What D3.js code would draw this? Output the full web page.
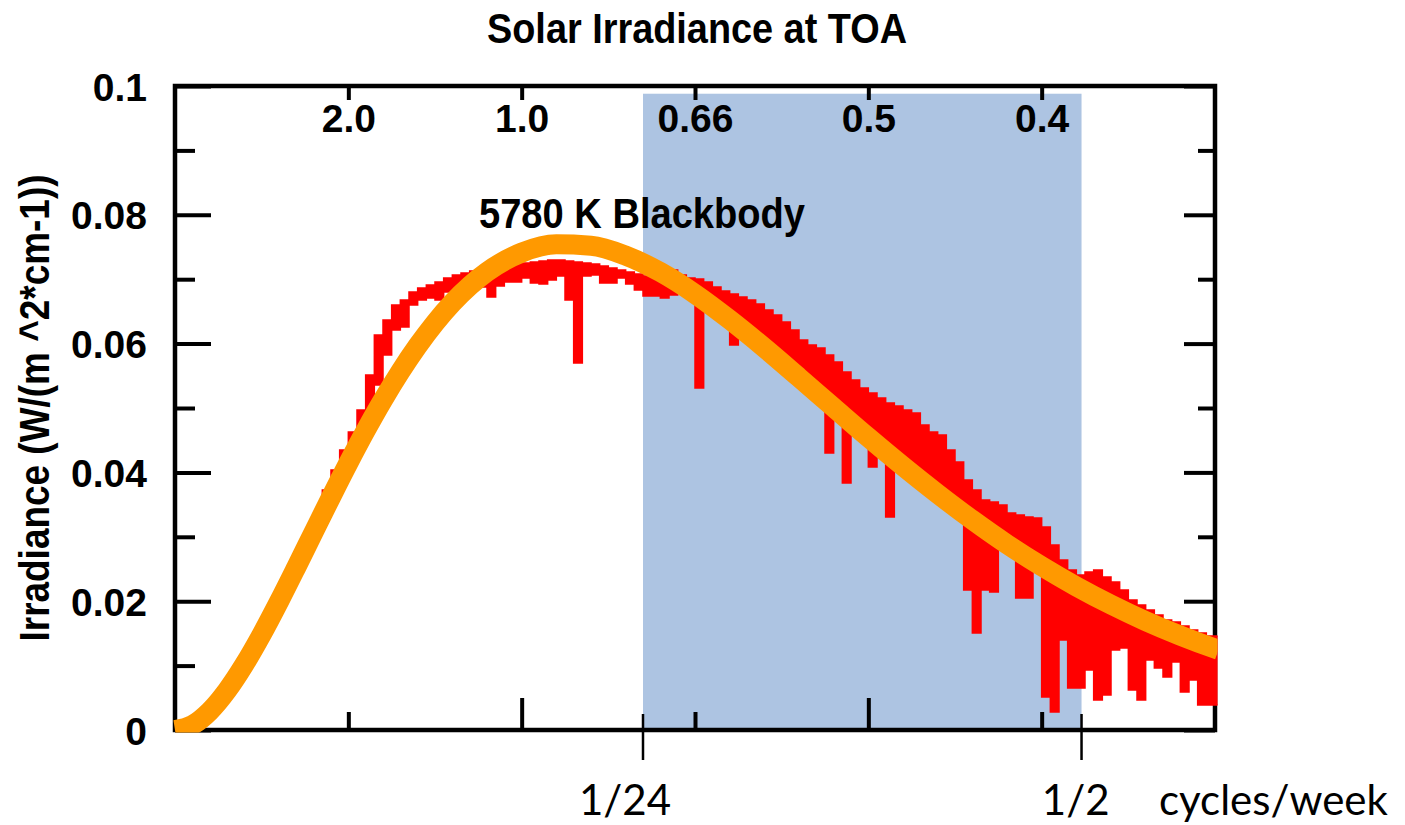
<!DOCTYPE html>
<html>
<head>
<meta charset="utf-8">
<script src="https://cdn.jsdelivr.net/npm/d3@7"></script>
<style>
  html, body { margin: 0; padding: 0; background: #ffffff; }
  svg { display: block; }
</style>
</head>
<body>
<script>
// ---- data -------------------------------------------------------------
// Wavenumber (cm-1) grid of the 5780 K blackbody curve and its irradiance W/(m^2*cm-1)
const blackbodyWavenumber = [0, 500, 1000, 1500, 2000, 2500, 3000, 3500, 4000, 4500, 5000, 5500,
  6000, 6500, 7000, 7500, 8000, 9000, 10000, 11000, 12000, 13000, 14000, 15000, 16000, 17000,
  18000, 19000, 20000, 21000, 22000, 23000, 24000, 25000, 26000, 27000, 28000, 29000, 30000, 30100];
const blackbodyIrradiance = [0, 0.00077, 0.00290, 0.00611, 0.01016, 0.01483, 0.01993, 0.02528,
  0.03073, 0.03615, 0.04144, 0.04650, 0.05126, 0.05565, 0.05964, 0.06321, 0.06632, 0.07114,
  0.07412, 0.07541, 0.07520, 0.07367, 0.07110, 0.06771, 0.06371, 0.05935, 0.05474, 0.05007,
  0.04543, 0.04095, 0.03667, 0.03262, 0.02885, 0.02542, 0.02229, 0.01946, 0.01691, 0.01465,
  0.01263, 0.01244];

// Measured solar spectrum, binned every 250 cm-1 from 3000 cm-1: upper and lower envelope per bin
const solarBinStart = 3000, solarBinWidth = 250;
const solarMax = [
  0.02170, 0.02440, 0.02710, 0.02990, 0.03260, 0.03727, 0.04037, 0.04348, 0.04627, 0.04969, 0.05512, 0.06134,
  0.06366, 0.06599, 0.06677, 0.06801, 0.06863, 0.06910, 0.06957, 0.07019, 0.07065, 0.07096, 0.07127, 0.07143,
  0.07174, 0.07189, 0.07205, 0.07236, 0.07252, 0.07267, 0.07283, 0.07298, 0.07298, 0.07283, 0.07267, 0.07252,
  0.07236, 0.07205, 0.07174, 0.07143, 0.07112, 0.07081, 0.07050, 0.07003, 0.07112, 0.07143, 0.07065, 0.07019,
  0.07003, 0.06957, 0.06879, 0.06817, 0.06770, 0.06724, 0.06677, 0.06615, 0.06522, 0.06444, 0.06335, 0.06211,
  0.06056, 0.05978, 0.05932, 0.05823, 0.05714, 0.05559, 0.05435, 0.05311, 0.05233, 0.05155, 0.05078, 0.05031,
  0.04969, 0.04922, 0.04736, 0.04627, 0.04581, 0.04348, 0.04161, 0.03882, 0.03727, 0.03571, 0.03540, 0.03494,
  0.03370, 0.03339, 0.03307, 0.03292, 0.03152, 0.02873, 0.02640, 0.02484, 0.02407, 0.02453, 0.02484, 0.02376,
  0.02298, 0.02174, 0.02019, 0.01941, 0.01863, 0.01786, 0.01708, 0.01677, 0.01615, 0.01553, 0.01506, 0.01460
];
const solarMin = [
  0.02070, 0.02340, 0.02610, 0.02890, 0.03160, 0.03339, 0.03618, 0.03898, 0.04146, 0.04503, 0.04891, 0.05357,
  0.05823, 0.06211, 0.06258, 0.06599, 0.06677, 0.06708, 0.06677, 0.06801, 0.06848, 0.06879, 0.06910, 0.06879,
  0.06724, 0.06894, 0.06957, 0.06957, 0.07019, 0.06941, 0.06925, 0.06988, 0.07050, 0.06677, 0.05699, 0.07050,
  0.07065, 0.06941, 0.06941, 0.07019, 0.06925, 0.06832, 0.06739, 0.06739, 0.06708, 0.06755, 0.06801, 0.06739,
  0.05311, 0.06615, 0.06522, 0.06398, 0.05978, 0.06180, 0.06056, 0.05947, 0.05823, 0.05714, 0.05590, 0.05497,
  0.05373, 0.05248, 0.05124, 0.04301, 0.04938, 0.03835, 0.04720, 0.04596, 0.04084, 0.04348, 0.03307, 0.04130,
  0.04037, 0.03929, 0.03820, 0.03696, 0.03571, 0.03478, 0.03385, 0.02174, 0.01506, 0.02174, 0.02143, 0.02873,
  0.02764, 0.02050, 0.02050, 0.02516, 0.00512, 0.00280, 0.01398, 0.00652, 0.00652, 0.00932, 0.00466, 0.00543,
  0.01242, 0.01273, 0.00621, 0.00466, 0.01087, 0.00963, 0.00823, 0.01056, 0.00590, 0.00776, 0.00388, 0.00388
];

// Axis ticks
const yMajorTicks = [0, 0.02, 0.04, 0.06, 0.08, 0.1];
const yMajorLabels = ["0", "0.02", "0.04", "0.06", "0.08", "0.1"];
const yMinorTicks = [0.01, 0.03, 0.05, 0.07, 0.09];
const xMajorTicks = [10000, 20000];
const xMinorTicks = [5000, 15000, 25000];
const wavelengthTicks = [5000, 10000, 15000, 20000, 25000];
const wavelengthLabels = ["2.0", "1.0", "0.66", "0.5", "0.4"];

// Shaded band between the two cycle markers
const cycleMarks = [13500, 26150];
const cycleLabels = ["1/24", "1/2"];
const bandTop = 0.0988;

// ---- layout -----------------------------------------------------------
const W = 1405, H = 825;
const x = d3.scaleLinear().domain([0, 30000]).range([175, 1215]);
const y = d3.scaleLinear().domain([0, 0.1]).range([730, 86]);
const boldFont = "'Liberation Sans', Arial, sans-serif";
const plainFont = "Lato, 'Open Sans', sans-serif";

const svg = d3.select("body").append("svg").attr("width", W).attr("height", H);
svg.append("rect").attr("width", W).attr("height", H).attr("fill", "#ffffff");

// Shaded band
svg.append("rect")
  .attr("x", x(cycleMarks[0]))
  .attr("y", y(bandTop))
  .attr("width", x(cycleMarks[1]) - x(cycleMarks[0]))
  .attr("height", y(0) - y(bandTop))
  .attr("fill", "#adc4e2");

// Axes (ticks point inward)
function styleAxis(g) {
  g.select(".domain").remove();
  g.selectAll(".tick line").attr("stroke", "#000").attr("stroke-width", 4);
  g.selectAll(".tick text")
    .attr("fill", "#000")
    .attr("font-family", boldFont)
    .attr("font-weight", "bold")
    .attr("font-size", 39);
}

svg.append("g").attr("transform", `translate(${x(0)},0)`)
  .call(d3.axisLeft(y).tickValues(yMajorTicks).tickSize(-36).tickPadding(28)
    .tickFormat((d, i) => yMajorLabels[i]))
  .call(styleAxis)
  .call(g => g.selectAll(".tick text").attr("dy", "0.36em"));
svg.append("g").attr("transform", `translate(${x(0)},0)`)
  .call(d3.axisLeft(y).tickValues(yMinorTicks).tickSize(-20).tickFormat(""))
  .call(styleAxis);

svg.append("g").attr("transform", `translate(${x(30000)},0)`)
  .call(d3.axisRight(y).tickValues(yMajorTicks).tickSize(-31).tickFormat(""))
  .call(styleAxis);
svg.append("g").attr("transform", `translate(${x(30000)},0)`)
  .call(d3.axisRight(y).tickValues(yMinorTicks).tickSize(-17).tickFormat(""))
  .call(styleAxis);

svg.append("g").attr("transform", `translate(0,${y(0)})`)
  .call(d3.axisBottom(x).tickValues(xMajorTicks).tickSize(-32).tickFormat(""))
  .call(styleAxis);
svg.append("g").attr("transform", `translate(0,${y(0)})`)
  .call(d3.axisBottom(x).tickValues(xMinorTicks).tickSize(-18).tickFormat(""))
  .call(styleAxis);

// Top axis: wavelength in micrometres, labels inside the frame
svg.append("g").attr("transform", `translate(0,${y(0.1)})`)
  .call(d3.axisBottom(x).tickValues(wavelengthTicks).tickSize(14).tickPadding(4)
    .tickFormat((d, i) => wavelengthLabels[i]))
  .call(styleAxis);

// Frame
svg.append("rect")
  .attr("x", x(0)).attr("y", y(0.1))
  .attr("width", x(30000) - x(0)).attr("height", y(0) - y(0.1))
  .attr("fill", "none").attr("stroke", "#000").attr("stroke-width", 4.5);

// Curves, clipped to the outer edge of the frame
svg.append("clipPath").attr("id", "plotClip")
  .append("rect")
  .attr("x", x(0) - 2.5).attr("y", y(0.1) - 2.5)
  .attr("width", x(30000) - x(0) + 5).attr("height", y(0) - y(0.1) + 5);
const plot = svg.append("g").attr("clip-path", "url(#plotClip)");

const solarData = solarMax.map((v, i) => ({
  nu: solarBinStart + i * solarBinWidth, hi: v, lo: solarMin[i]
}));
solarData.push({ nu: 30100, hi: solarMax[solarMax.length - 1], lo: solarMin[solarMin.length - 1] });

plot.append("path")
  .datum(solarData)
  .attr("d", d3.area()
    .x(d => x(d.nu))
    .y0(d => y(d.lo))
    .y1(d => y(d.hi))
    .curve(d3.curveStepAfter))
  .attr("fill", "#ff0000")
  .attr("stroke", "#ff0000")
  .attr("stroke-width", 1.5);

plot.append("path")
  .datum(blackbodyWavenumber.map((nu, i) => [nu, blackbodyIrradiance[i]]))
  .attr("d", d3.line()
    .x(d => x(d[0]))
    .y(d => y(d[1]))
    .curve(d3.curveMonotoneX))
  .attr("fill", "none")
  .attr("stroke", "#ff9900")
  .attr("stroke-width", 20);

// Cycle markers below the axis
svg.selectAll(".cycle-mark")
  .data(cycleMarks)
  .join("line")
  .attr("class", "cycle-mark")
  .attr("x1", d => x(d)).attr("x2", d => x(d))
  .attr("y1", y(0) - 16).attr("y2", y(0) + 30)
  .attr("stroke", "#000").attr("stroke-width", 2.5);

svg.selectAll(".cycle-label")
  .data(cycleMarks)
  .join("text")
  .attr("class", "cycle-label")
  .attr("x", d => x(d) + 28)
  .attr("y", 815)
  .attr("text-anchor", "end")
  .attr("font-family", plainFont)
  .attr("font-size", 42)
  .attr("fill", "#000")
  .text((d, i) => cycleLabels[i]);

svg.append("text")
  .attr("x", 1159).attr("y", 815)
  .attr("font-family", plainFont)
  .attr("font-size", 42)
  .attr("fill", "#000")
  .text("cycles/week");

// Title
svg.append("text")
  .attr("x", 487).attr("y", 43)
  .attr("font-family", boldFont).attr("font-weight", "bold")
  .attr("font-size", 42)
  .attr("textLength", 420).attr("lengthAdjust", "spacingAndGlyphs")
  .attr("fill", "#000")
  .text("Solar Irradiance at TOA");

// Curve annotation
svg.append("text")
  .attr("x", 479).attr("y", 228)
  .attr("font-family", boldFont).attr("font-weight", "bold")
  .attr("font-size", 42)
  .attr("textLength", 326).attr("lengthAdjust", "spacingAndGlyphs")
  .attr("fill", "#000")
  .text("5780 K Blackbody");

// Y axis title
svg.append("text")
  .attr("transform", "translate(49,408) rotate(-90)")
  .attr("text-anchor", "middle")
  .attr("font-family", boldFont).attr("font-weight", "bold")
  .attr("font-size", 42)
  .attr("textLength", 467).attr("lengthAdjust", "spacingAndGlyphs")
  .attr("fill", "#000")
  .text("Irradiance (W/(m ^2*cm-1))");
</script>
</body>
</html>
